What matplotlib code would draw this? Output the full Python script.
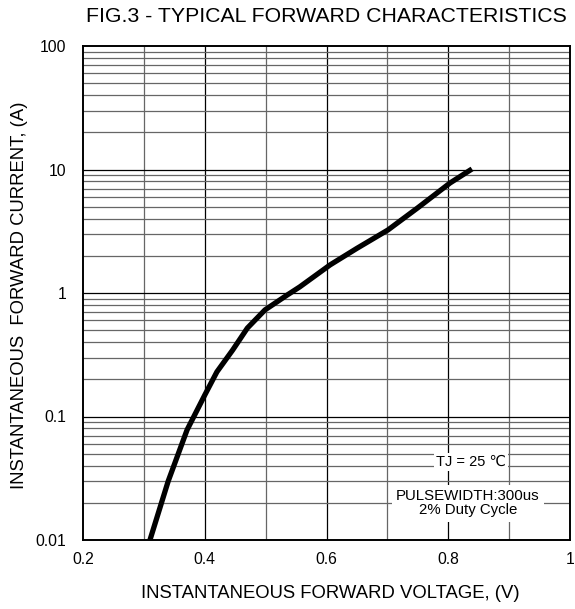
import matplotlib.pyplot as plt
import numpy as np

plt.rcParams['font.family'] = ['Liberation Sans', 'DejaVu Sans', 'Noto Sans CJK SC']

# Curva (tensao em V, corrente em A)
vf = [0.31, 0.34, 0.371, 0.40, 0.42, 0.446, 0.47, 0.499, 0.535, 0.556, 0.606, 0.65, 0.701, 0.75, 0.803, 0.839]
i_f = [0.01, 0.03, 0.078, 0.149, 0.23, 0.346, 0.52, 0.73, 0.96, 1.12, 1.69, 2.3, 3.24, 4.9, 7.78, 10.1]

x_ticks = [0.2, 0.4, 0.6, 0.8, 1.0]
x_labels = ['0.2', '0.4', '0.6', '0.8', '1']
y_ticks = [0.01, 0.1, 1, 10, 100]
y_labels = ['0.01', '0.1', '1', '10', '100']

fig = plt.figure(figsize=(5.75, 6.09), dpi=100)
ax = fig.add_axes([83 / 575, 69 / 609, 487 / 575, 494 / 609])
ax.set_yscale('log')
ax.set_xlim(0.2, 1.0)
ax.set_ylim(0.01, 100)

# Grade
for xv in np.arange(0.3, 1.0, 0.1):
    major = abs(round(xv * 10) % 2) == 0
    ax.axvline(xv, color='black' if major else '#666666', lw=0.9, zorder=1)
for dec in [0.01, 0.1, 1, 10]:
    for m in range(2, 10):
        ax.axhline(dec * m, color='#666666', lw=0.9, zorder=1)
    if dec > 0.01:
        ax.axhline(dec, color='black', lw=0.9, zorder=1)

ax.plot(vf, i_f, color='black', lw=3.8, solid_capstyle='butt', zorder=3)

ax.set_xticks(x_ticks)
ax.set_xticklabels(x_labels)
ax.set_yticks(y_ticks)
ax.set_yticklabels(y_labels)
ax.minorticks_off()
ax.tick_params(length=0, labelsize=11.3, pad=12)
ax.tick_params(axis='x', pad=9)
for s in ax.spines.values():
    s.set_linewidth(1.4)

ax.text(0.8375, 0.0428, 'TJ = 25 \u2103', ha='center', va='center', fontsize=10.5,
        bbox=dict(facecolor='white', edgecolor='none', pad=1.5), zorder=4)
ax.text(0.8325, 0.0199, 'PULSEWIDTH:300us\n2% Duty Cycle', ha='center', va='center',
        fontsize=10.8, linespacing=1.05,
        bbox=dict(facecolor='white', edgecolor='none', pad=3), zorder=4)

fig.text(567 / 575, 1 - 17 / 609, 'FIG.3 - TYPICAL FORWARD CHARACTERISTICS',
         ha='right', va='center', fontsize=15.3)
fig.text(330 / 575, 1 - 593 / 609, 'INSTANTANEOUS FORWARD VOLTAGE, (V)',
         ha='center', va='center', fontsize=13.3)
fig.text(20 / 575, 1 - 295 / 609, 'INSTANTANEOUS  FORWARD CURRENT, (A)',
         ha='center', va='center', rotation=90, fontsize=13.3)

plt.savefig('out.png', dpi=100)
